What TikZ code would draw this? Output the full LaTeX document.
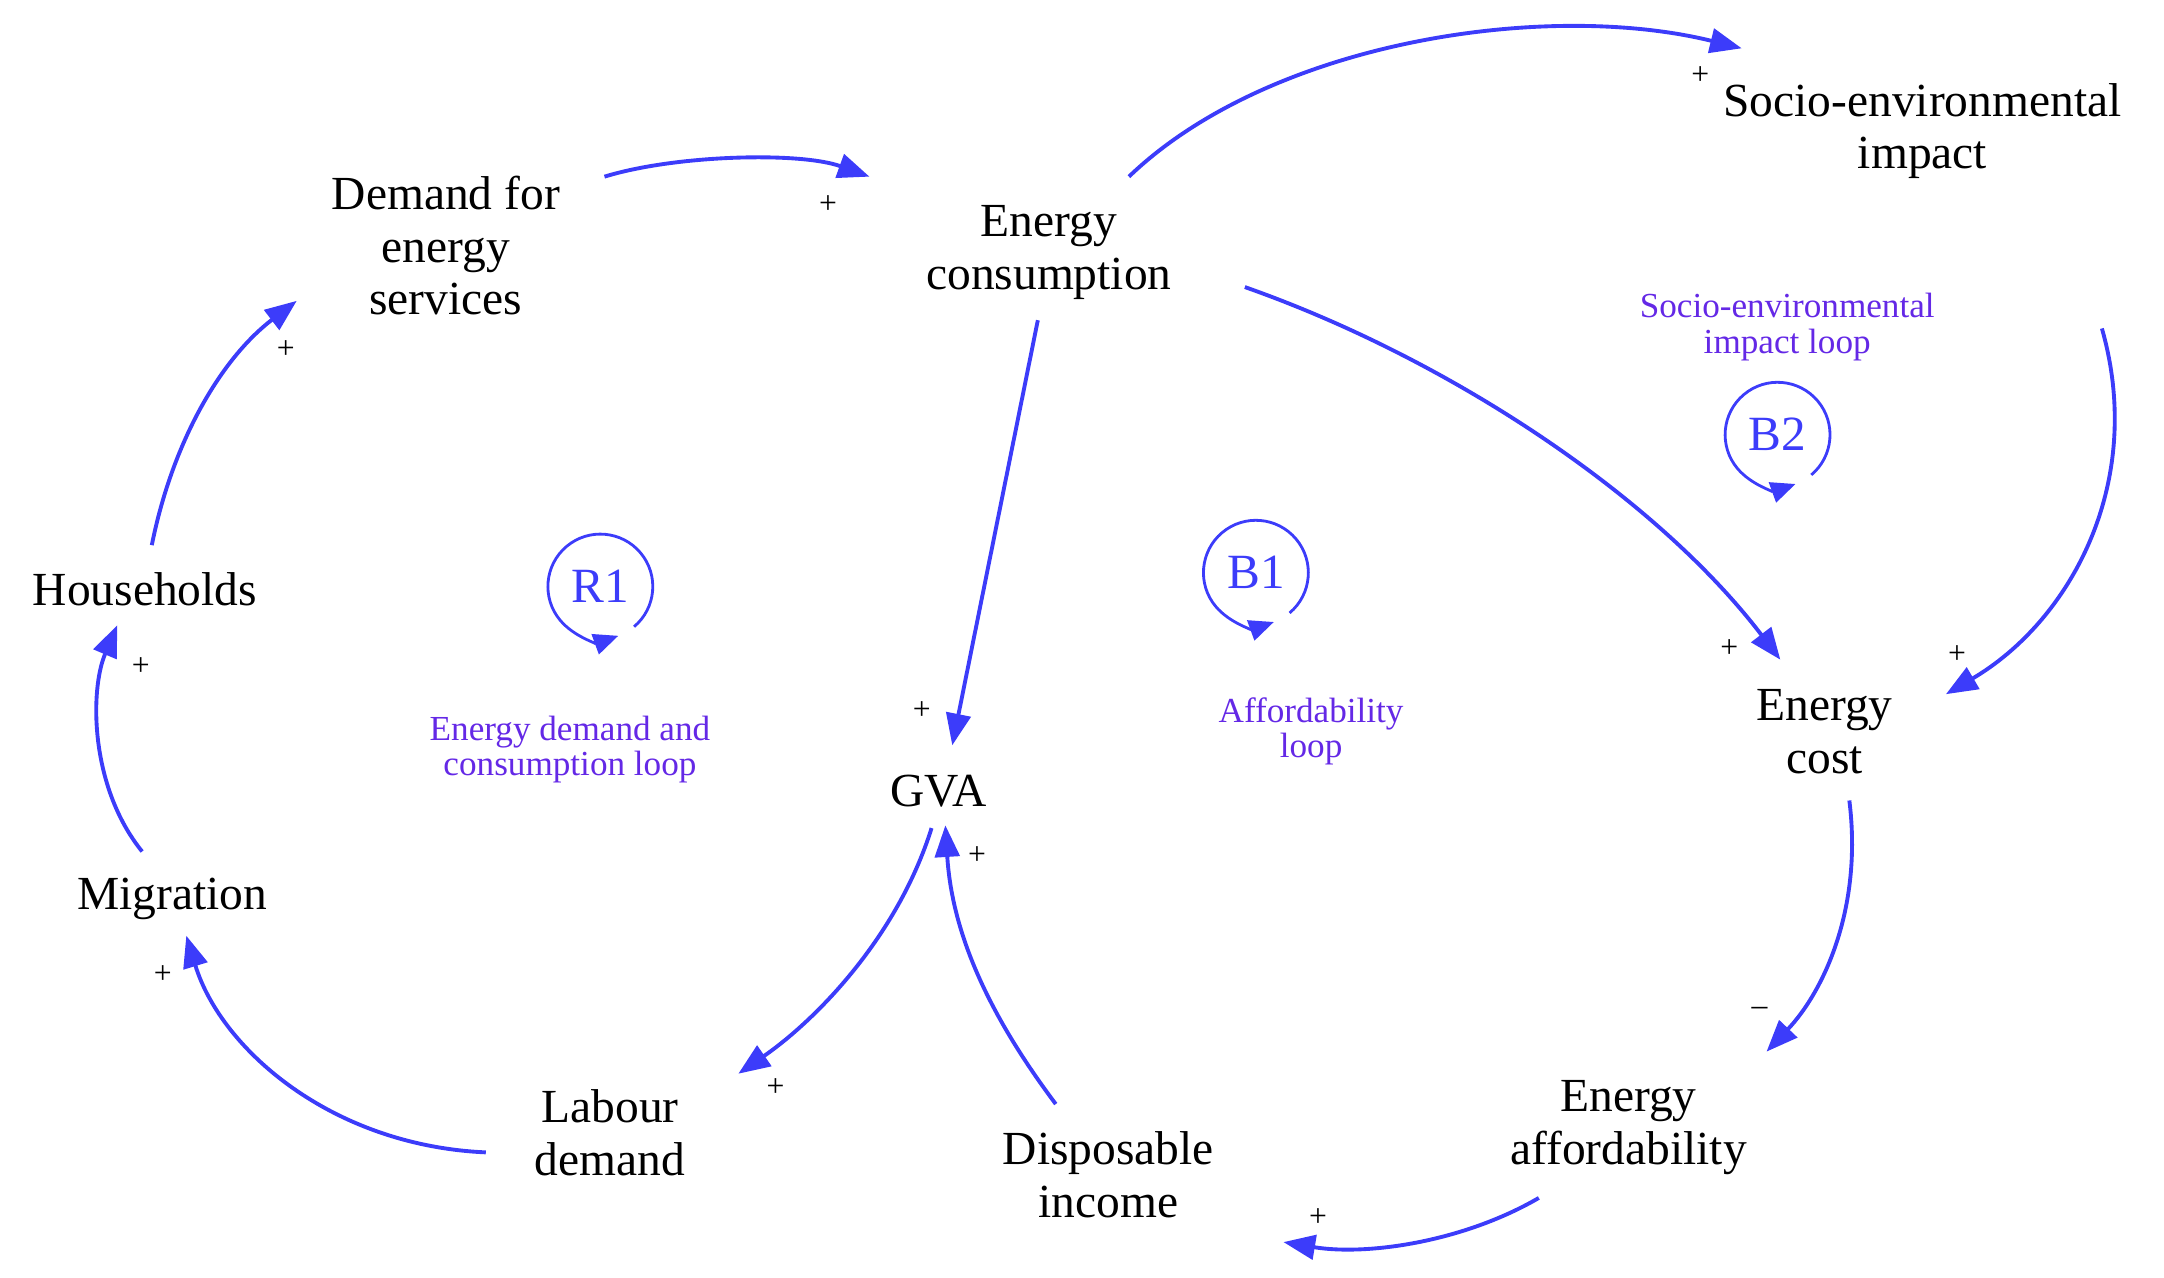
\documentclass[tikz,border=0pt]{standalone}
\usepackage{fontspec}
\setmainfont{Liberation Serif}
\usetikzlibrary{arrows.meta}
\definecolor{ab}{RGB}{60,60,250}
\definecolor{lb}{RGB}{100,40,230}
\begin{document}
\begin{tikzpicture}[x=0.0138cm,y=-0.0138cm,
 v/.style={font=\fontsize{13.5}{15}\selectfont,align=center,inner sep=0pt},
 ar/.style={draw=ab,line width=1.1pt,-{Triangle[length=9pt,width=7pt]},fill=none},
 pl/.style={font=\fontsize{9}{9}\selectfont,inner sep=0pt},
 ll/.style={font=\fontsize{10}{10}\selectfont,text=lb,align=center,inner sep=0pt},
 lp/.style={font=\fontsize{14}{14}\selectfont,text=ab,inner sep=0pt}]
\useasboundingbox (0,0) rectangle (1568,926);
\node[v] (dem) at (323,178) {Demand for\\energy\\services};
\node[v] (ec) at (760,183) {Energy\\consumption};
\node[v] (se) at (1393,95) {Socio-environmental\\impact};
\node[v] (hh) at (105,427) {Households};
\node[v] (mig) at (125,651) {Migration};
\node[v] (lab) at (442,821) {Labour\\demand};
\node[v] (di) at (803,851) {Disposable\\income};
\node[v] (gva) at (680,573) {GVA};
\node[v] (cost) at (1322,530) {Energy\\cost};
\node[v] (aff) at (1180,817) {Energy\\affordability};
% endpoints
\coordinate (a1) at (438,128); \coordinate (b1) at (630,128);
\coordinate (a2) at (818,128); \coordinate (b2) at (1262,35);
\coordinate (a3) at (752,232); \coordinate (b3) at (690,540);
\coordinate (a4) at (902,208); \coordinate (b4) at (1290,478);
\coordinate (a5) at (1523,238); \coordinate (b5) at (1410,503);
\coordinate (a6) at (1340,580); \coordinate (b6) at (1280,762);
\coordinate (a7) at (1115,868); \coordinate (b7) at (930,900);
\coordinate (a8) at (765,800); \coordinate (b8) at (685,598);
\coordinate (a9) at (675,600); \coordinate (b9) at (535,778);
\coordinate (a10) at (352,835); \coordinate (b10) at (135,678);
\coordinate (a11) at (103,617); \coordinate (b11) at (85,453);
\coordinate (a12) at (110,395); \coordinate (b12) at (215,218);
\draw[ar] (a1) .. controls (490,112) and (580,110) .. (b1);
\draw[ar] (a2) .. controls (920,30) and (1120,0) .. (b2);
\draw[ar] (a3) -- (b3);
\draw[ar] (a4) .. controls (1050,260) and (1200,360) .. (b4);
\draw[ar] (a5) .. controls (1555,350) and (1500,450) .. (b5);
\draw[ar] (a6) .. controls (1350,660) and (1320,720) .. (b6);
\draw[ar] (a7) .. controls (1060,900) and (990,910) .. (b7);
\draw[ar] (a8) .. controls (720,740) and (690,680) .. (b8);
\draw[ar] (a9) .. controls (650,680) and (590,740) .. (b9);
\draw[ar] (a10) .. controls (240,830) and (160,760) .. (b10);
\draw[ar] (a11) .. controls (65,570) and (65,500) .. (b11);
\draw[ar] (a12) .. controls (125,320) and (160,260) .. (b12);
% polarity
\node[pl] (p1) at (600,148) {+};
\node[pl] (p2) at (1232,55) {+};
\node[pl] (p3) at (668,515) {+};
\node[pl] (p4) at (1253,470) {+};
\node[pl] (p5) at (1418,474) {+};
\node[pl] (p6) at (1275,733) {--};
\node[pl] (p7) at (955,882) {+};
\node[pl] (p8) at (708,620) {+};
\node[pl] (p9) at (562,788) {+};
\node[pl] (p10) at (118,706) {+};
\node[pl] (p11) at (102,483) {+};
\node[pl] (p12) at (207,253) {+};
% loops
\foreach \n/\x/\y/\t in {r1/435/425/R1, b1/910/415/B1, b2/1288/315/B2}{
 \node[lp] (\n) at (\x,\y) {\t};
 \draw[ab,line width=0.8pt,-{Triangle[length=7pt,width=6pt]}] (\x,\y) ++(50:38) arc[start angle=50,end angle=-290,radius=38] ;
}
\node[ll] (t1) at (413,543) {Energy demand and\\consumption loop};
\node[ll] (t2) at (950,530) {Affordability\\loop};
\node[ll] (t3) at (1295,237) {Socio-environmental\\impact loop};
\end{tikzpicture}
\end{document}
